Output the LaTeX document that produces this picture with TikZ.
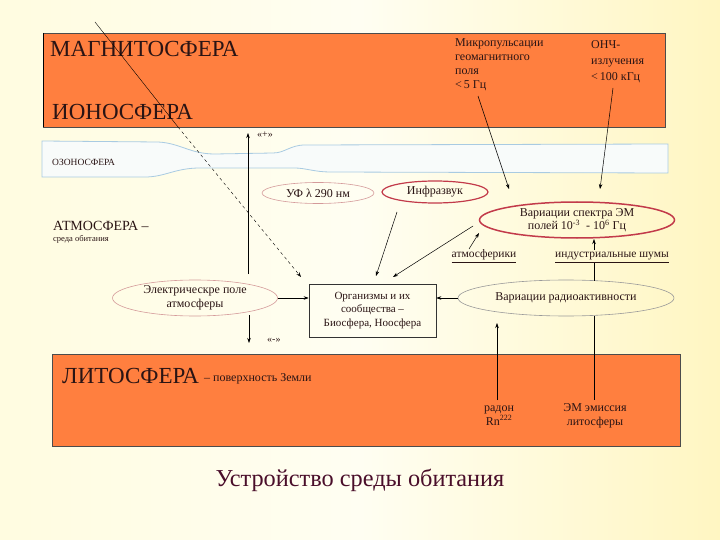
\documentclass[tikz,border=0pt]{standalone}
\usepackage{fontspec}
\setmainfont{Liberation Serif}
\usetikzlibrary{arrows.meta,shapes.geometric}
\definecolor{bgL}{HTML}{FFFCE0}
\definecolor{bgM}{HTML}{FFFEF2}
\definecolor{bgR}{HTML}{FFF6C2}
\definecolor{orng}{HTML}{FF7F3F}
\definecolor{txt}{HTML}{2A1414}
\definecolor{ozl}{HTML}{A9CBE2}
\definecolor{ozf}{HTML}{F8FBFA}
\definecolor{redA}{HTML}{C23A4A}
\definecolor{pinkA}{HTML}{D49A9A}
\definecolor{grayA}{HTML}{9A9A9A}
\definecolor{ttl}{HTML}{4A0E2A}
\tikzset{
  big/.style={font=\fontsize{23}{26}\selectfont, text=txt, anchor=base west, inner sep=0},
  sm/.style={font=\fontsize{11.5}{13}\selectfont, text=txt, inner sep=0},
  ell/.style={ellipse, draw, inner sep=0, font=\fontsize{12}{13.5}\selectfont, text=txt, align=center},
  arr/.style={-{Stealth[length=5pt,width=3.5pt]}, draw=black, line width=0.5pt},
  ln/.style={draw=black, line width=0.5pt},
}
\begin{document}
\begin{tikzpicture}[x=1pt,y=-1pt]
\useasboundingbox (0,0) rectangle (720,540);
\shade[left color=bgL, right color=bgR, middle color=bgM] (0,0) rectangle (720,540);
% top box
\node[draw=black!70, fill=orng, line width=0.5pt, minimum width=622pt, minimum height=94pt, inner sep=0, anchor=north west] (top) at (43,33) {};
\draw[line width=1.5pt, black] (43.5,33) -- (43.5,127);
\node[big] (mag) at (50,57) {МАГНИТОСФЕРА};
\node[big] (ion) at (52,120) {ИОНОСФЕРА};
\node[sm, align=left, anchor=base west, font=\fontsize{12}{14}\selectfont] (micro) at (455,89) {Микропульсации\\геомагнитного\\поля\\<\,5 Гц};
\node[sm, align=left, anchor=base west, font=\fontsize{12}{16}\selectfont] (onch) at (591,81) {ОНЧ-\\излучения\\<\,100 кГц};
% ozone band
\draw[draw=ozl, fill=ozf, line width=0.8pt] (42,141) -- (158,142) .. controls (180,143) and (190,154) .. (215,154) -- (273,153) .. controls (285,153) and (290,145) .. (305,145) -- (668,144) -- (668,173) -- (330,172) .. controls (315,172) and (305,168) .. (295,168) -- (200,168) .. controls (175,168) and (165,177) .. (145,177) -- (42,177) -- cycle;
\node[sm, anchor=base west, font=\fontsize{9.5}{11}\selectfont] (ozon) at (52,166) {ОЗОНОСФЕРА};
% atmosphere label
\node[anchor=base west, inner sep=0, text=txt, font=\fontsize{14}{16}\selectfont] (atm) at (53,230) {АТМОСФЕРА –};
\node[sm, anchor=base west, font=\fontsize{8.5}{10}\selectfont] (sreda) at (53,241) {среда обитания};
% ellipses
\node[ell, draw=pinkA, line width=0.6pt, minimum width=112pt, minimum height=21pt] (uf) at (318,193) {УФ λ 290 нм};
\node[ell, draw=redA, line width=1.2pt, minimum width=106pt, minimum height=22pt] (infra) at (435,192) {Инфразвук};
\node[ell, draw=redA, line width=1.5pt, minimum width=195pt, minimum height=36pt] (em) at (577,220) {Вариации спектра ЭМ\\полей 10\textsuperscript{-3}\ \ - 10\textsuperscript{6} Гц};
\node[ell, draw=pinkA, line width=0.6pt, minimum width=165pt, minimum height=36pt] (el) at (195,298) {Электрическре поле\\атмосферы};
\node[ell, draw=grayA, line width=0.6pt, minimum width=216pt, minimum height=36pt] (rad) at (566,298) {Вариации радиоактивности};
% organisms box
\node[draw=black!80, line width=0.6pt, minimum width=127pt, minimum height=53pt, inner sep=0, align=center, font=\fontsize{11}{13.5}\selectfont, text=txt] (org) at (372.5,310.5) {Организмы и их\\сообщества –\\Биосфера, Ноосфера};
% labels
\node[sm, anchor=base] (atmf) at (484,258) {\underline{атмосферики}};
\node[sm, anchor=base] (ind) at (612,258) {\underline{индустриальные шумы}};
% bottom box
\node[draw=black!70, fill=orng, line width=0.5pt, minimum width=628pt, minimum height=92pt, inner sep=0, anchor=north west] (bot) at (52,354) {};
\node[big] (lit) at (62,383) {ЛИТОСФЕРА};
\node[sm, anchor=base west, font=\fontsize{12}{14}\selectfont] (pov) at (204,381) {– поверхность Земли};
\node[sm, align=center, anchor=base, font=\fontsize{12}{14}\selectfont] (radon) at (499,425) {радон\\Rn\textsuperscript{222}};
\node[sm, align=center, anchor=base, font=\fontsize{12}{14}\selectfont] (emis) at (595,425) {ЭМ эмиссия\\литосферы};
% title
\node[anchor=base, inner sep=0, text=ttl, font=\fontsize{24.3}{27}\selectfont] (title) at (360,486) {Устройство среды обитания};
% coordinates
\coordinate (dA) at (95,22);
\coordinate (dB) at (178,127);
\coordinate (dC) at (301,277);
\coordinate (pB) at (248,274);
\coordinate (pT) at (248,133);
\coordinate (mA) at (249,315);
\coordinate (mB) at (249,343);
\coordinate (mA1) at (478,96);
\coordinate (mA2) at (509,189);
\coordinate (oA1) at (613,88);
\coordinate (oA2) at (600,189);
\coordinate (iA) at (397,212);
\coordinate (iB) at (376,276);
\coordinate (eA) at (473,226);
\coordinate (eB) at (393,277);
\coordinate (aA) at (469,249);
\coordinate (aB) at (479,233);
\coordinate (nA) at (594,250);
\coordinate (nB) at (594,239);
\coordinate (rA) at (594,263);
\coordinate (rB) at (594,280.5);
\coordinate (rnA) at (497,400);
\coordinate (rnB) at (497,323);
\coordinate (emA) at (594,315.5);
\coordinate (emB) at (594,400);
% connectors
\draw[ln, line width=0.4pt] (dA) -- (dB);
\draw[arr, dashed, line width=0.4pt] (dB) -- (dC);
\draw[arr] (pB) -- (pT);
\node[sm, font=\fontsize{10}{12}\selectfont, anchor=base west] (pl) at (257,138) {«+»};
\draw[arr] (mA) -- (mB);
\node[sm, font=\fontsize{10}{12}\selectfont, anchor=base west] (mi) at (267,342) {«-»};
\draw[arr] (mA1) -- (mA2);
\draw[arr] (oA1) -- (oA2);
\draw[arr] (iA) -- (iB);
\draw[arr] (eA) -- (eB);
\draw[arr] (aA) -- (aB);
\draw[arr] (nA) -- (nB);
\draw[ln] (rA) -- (rB);
\draw[arr] (el.east) -- (org.west |- el.east);
\draw[arr] (rad.west) -- (org.east |- rad.west);
\draw[arr] (rnA) -- (rnB);
\draw[ln] (emA) -- (emB);
\end{tikzpicture}
\end{document}
